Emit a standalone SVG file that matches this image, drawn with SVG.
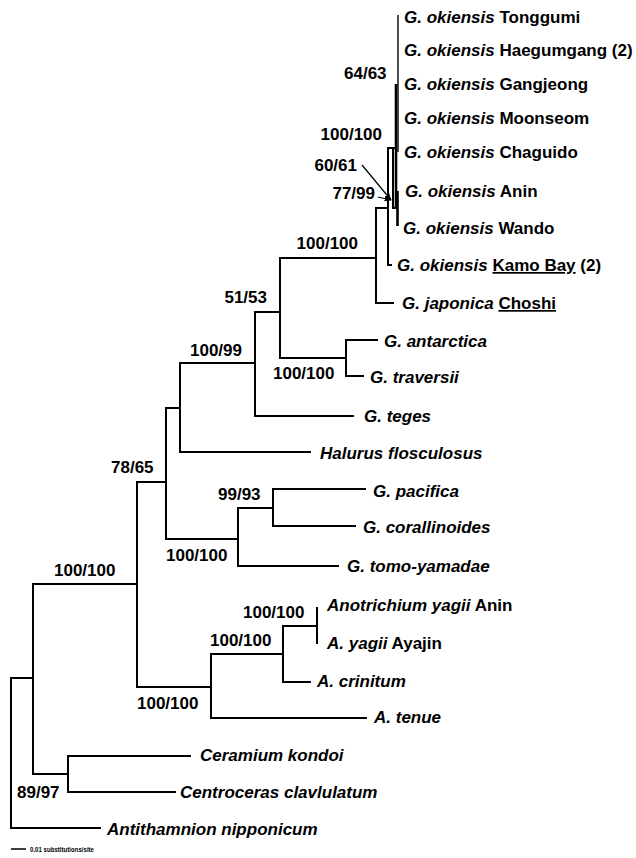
<svg xmlns="http://www.w3.org/2000/svg" width="636" height="858" viewBox="0 0 636 858">
<defs>
<style>
.br{fill:none;stroke:#000;stroke-width:2;stroke-linecap:square}
.tk{fill:none;stroke:#000;stroke-width:2.6}
.tn{fill:none;stroke:#000;stroke-width:1.4}
.ar{fill:none;stroke:#000;stroke-width:1.2}
text{font-family:"Liberation Sans",Arial,sans-serif;font-weight:bold;font-size:17px;fill:#000}
.sp{font-style:italic}
.lb{font-size:17px}
.u{text-decoration:underline}
</style>
<marker id="ah" viewBox="0 0 10 10" refX="9" refY="5" markerWidth="7" markerHeight="7" orient="auto" markerUnits="userSpaceOnUse">
<path d="M0,1 L10,5 L0,9 z" fill="#000"/>
</marker>
</defs>
<rect width="636" height="858" fill="#fff"/>
<g id="connectors">
<path class="br" d="M11,678V828 M11,678H33 M11,828H100"/>
<path class="br" d="M33,584V774 M33,584H137 M33,774H68"/>
<path class="br" d="M68,756V792 M68,756H190 M68,792H175"/>
<path class="br" d="M137,482V687 M137,482H166 M137,687H211"/>
<path class="br" d="M211,654V718 M211,654H283 M211,718H366"/>
<path class="br" d="M283,626V682 M283,626H317 M283,682H310"/>
<path class="br" d="M317,608V643"/>
<path class="br" d="M166,408V539 M166,408H180 M166,539H238"/>
<path class="br" d="M238,508V566 M238,508H273 M238,566H338"/>
<path class="br" d="M273,489V526 M273,489H365 M273,526H355"/>
<path class="br" d="M180,363V452 M180,363H255 M180,452H310"/>
<path class="br" d="M255,312V416 M255,312H280 M255,416H353"/>
<path class="br" d="M280,258V358 M280,258H376 M280,358H346"/>
<path class="br" d="M346,340V376 M346,340H377 M346,376H363"/>
<path class="br" d="M376,208V303 M376,208H388 M376,303H393"/>
<path class="br" d="M388,148V265 M388,265H391 M388,148H394"/>
<path class="br" d="M393,148V208 M393,208H397"/>
<path class="tk" d="M396,84V208"/>
<path class="tn" d="M398,15V152"/>
<path class="tk" d="M397.5,191V226"/>
<path class="ar" d="M362,165L391,200" marker-end="url(#ah)"/>
<path class="ar" d="M378,197L391,200" marker-end="url(#ah)"/>
</g>
<g id="tips">
<text id="t1" x="404" y="23"><tspan class="sp">G. okiensis</tspan> Tonggumi</text>
<text id="t2" x="404" y="56"><tspan class="sp">G. okiensis</tspan> Haegumgang (2)</text>
<text id="t3" x="404" y="90"><tspan class="sp">G. okiensis</tspan> Gangjeong</text>
<text id="t4" x="404" y="124"><tspan class="sp">G. okiensis</tspan> Moonseom</text>
<text id="t5" x="404" y="158"><tspan class="sp">G. okiensis</tspan> Chaguido</text>
<text id="t6" x="405" y="197"><tspan class="sp">G. okiensis</tspan> Anin</text>
<text id="t7" x="403" y="234"><tspan class="sp">G. okiensis</tspan> Wando</text>
<text id="t8" x="397" y="271"><tspan class="sp">G. okiensis</tspan> <tspan class="u">Kamo Bay</tspan> (2)</text>
<text id="t9" x="402" y="309"><tspan class="sp">G. japonica</tspan> <tspan class="u">Choshi</tspan></text>
<text id="t10" x="384" y="347" class="sp">G. antarctica</text>
<text id="t11" x="370" y="383" class="sp">G. traversii</text>
<text id="t12" x="364" y="422" class="sp">G. teges</text>
<text id="t13" x="320" y="459" class="sp">Halurus flosculosus</text>
<text id="t14" x="373" y="497" class="sp">G. pacifica</text>
<text id="t15" x="363" y="533" class="sp">G. corallinoides</text>
<text id="t16" x="347" y="572" class="sp">G. tomo-yamadae</text>
<text id="t17" x="327" y="611"><tspan class="sp">Anotrichium yagii</tspan> Anin</text>
<text id="t18" x="327" y="649"><tspan class="sp">A. yagii</tspan> Ayajin</text>
<text id="t19" x="317" y="687" class="sp">A. crinitum</text>
<text id="t20" x="374" y="723" class="sp">A. tenue</text>
<text id="t21" x="200" y="761" class="sp">Ceramium kondoi</text>
<text id="t22" x="180" y="798" class="sp">Centroceras clavlulatum</text>
<text id="t23" x="107" y="835" class="sp">Antithamnion nipponicum</text>
</g>
<g id="support">
<text class="lb" x="344" y="79">64/63</text>
<text class="lb" x="382" y="140" text-anchor="end">100/100</text>
<text class="lb" x="357" y="171" text-anchor="end">60/61</text>
<text class="lb" x="375" y="199" text-anchor="end">77/99</text>
<text class="lb" x="358" y="249" text-anchor="end">100/100</text>
<text class="lb" x="267" y="303" text-anchor="end">51/53</text>
<text class="lb" x="273" y="379">100/100</text>
<text class="lb" x="190" y="356">100/99</text>
<text class="lb" x="111" y="473">78/65</text>
<text class="lb" x="218" y="500">99/93</text>
<text class="lb" x="166" y="561">100/100</text>
<text class="lb" x="54" y="576">100/100</text>
<text class="lb" x="243" y="618">100/100</text>
<text class="lb" x="210" y="646">100/100</text>
<text class="lb" x="137" y="709">100/100</text>
<text class="lb" x="17" y="798">89/97</text>
</g>
<g id="scale">
<path d="M11,849H26" stroke="#000" stroke-width="1.5"/>
<text x="30" y="852" style="font-size:8px" textLength="64" lengthAdjust="spacingAndGlyphs">0.01 substitutions/site</text>
</g>
</svg>
